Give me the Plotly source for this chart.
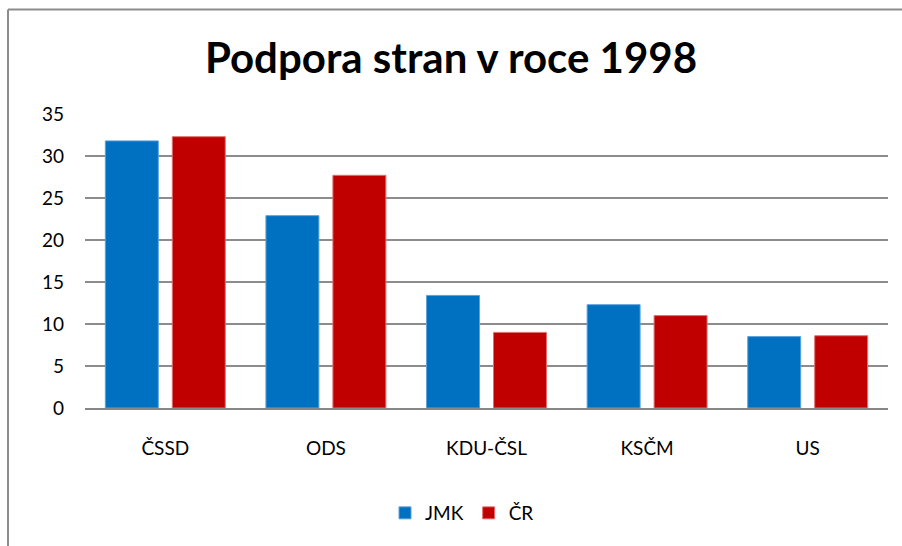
import plotly.graph_objects as go

categories = ["ČSSD", "ODS", "KDU-ČSL", "KSČM", "US"]
jmk = [31.8, 22.9, 13.4, 12.3, 8.5]
cr = [32.3, 27.7, 9.0, 11.0, 8.6]
y_ticks = [0, 5, 10, 15, 20, 25, 30, 35]

fig = go.Figure()
fig.add_bar(name="JMK", x=categories, y=jmk, marker=dict(color="#0070C0", line=dict(color="#5BA3DA", width=1)))
fig.add_bar(name="ČR", x=categories, y=cr, marker=dict(color="#C00000", line=dict(color="#E07070", width=1)))

W, H = 902, 546
L, R, T, B = 85, 14, 114, 138
pw, ph = W - L - R, H - T - B

def px_x(x):
    return (x - L) / pw

def px_y(y):
    return (H - B - y) / ph

FONT = "Lato"
fig.update_layout(
    width=W, height=H,
    margin=dict(l=L, r=R, t=T, b=B),
    paper_bgcolor="white", plot_bgcolor="white",
    font=dict(family=FONT, size=19, color="#000000"),
    title=dict(text="<b>Podpora stran v roce 1998</b>", x=0.5, xanchor="center",
               y=1 - 58 / H, yanchor="middle", font=dict(family=FONT, size=42, color="#000000")),
    barmode="group", bargap=0.166, bargroupgap=0.209,
    showlegend=True,
    legend=dict(orientation="h", x=px_x(462), xanchor="center", y=px_y(513), yanchor="middle",
                font=dict(size=19), itemwidth=30, traceorder="normal"),
    xaxis=dict(showline=True, linecolor="#868686", linewidth=2, ticks="", tickfont=dict(size=19),
               showgrid=False, ticklabelstandoff=22),
    yaxis=dict(range=[0, 35], tickvals=y_ticks, showgrid=True, gridcolor="#8C8C8C", gridwidth=1.5,
               zeroline=False, showline=False, ticks="", tickfont=dict(size=19), ticklabelstandoff=20),
    shapes=[
        dict(type="line", xref="paper", yref="paper", x0=px_x(8), x1=px_x(910), y0=px_y(9.5), y1=px_y(9.5),
             line=dict(color="#8C8C8C", width=2)),
        dict(type="line", xref="paper", yref="paper", x0=px_x(8), x1=px_x(8), y0=px_y(9.5), y1=px_y(560),
             line=dict(color="#8C8C8C", width=2)),
    ],
)

fig.write_html("out.html", config={"displayModeBar": False},
               post_script="document.body.style.margin='0';document.body.style.overflow='hidden';")
